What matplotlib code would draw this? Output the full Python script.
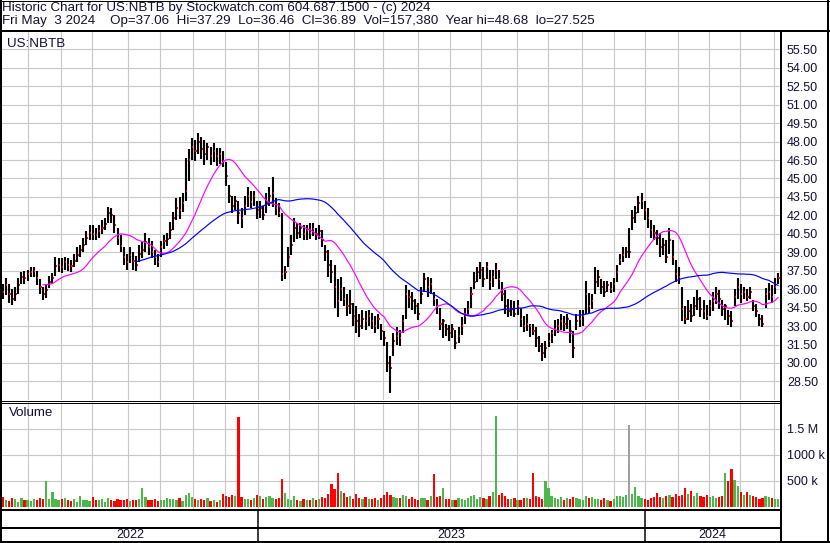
import numpy as np
import pandas as pd
import matplotlib
matplotlib.use("Agg")
import matplotlib.pyplot as plt
from matplotlib.lines import Line2D

plt.rcParams['font.family'] = ['Liberation Sans', 'DejaVu Sans']

# ---------------- data (one bar = two trading days) ----------------
close = [
    36.0, 35.8, 36.3, 35.6, 35.2, 35.6, 36.3, 37.0, 36.9, 37.2,
    37.4, 37.5, 36.9, 36.2, 35.6, 35.9, 36.6, 36.9, 37.9, 38.0,
    37.8, 38.2, 38.0, 37.9, 38.3, 38.8, 39.2, 39.6, 40.2, 40.6,
    40.5, 40.4, 40.7, 41.0, 41.3, 42.2, 42.0, 41.2, 40.2, 39.5,
    38.6, 38.2, 38.8, 38.3, 38.0, 38.9, 39.2, 39.8, 39.4, 39.0,
    38.6, 38.2, 39.4, 39.9, 40.1, 40.8, 41.8, 42.6, 42.4, 43.0,
    44.0, 46.5, 47.6, 47.2, 48.0, 47.4, 47.0, 47.6, 46.8, 47.2,
    46.8, 47.0, 46.4, 45.2, 43.6, 42.8, 43.2, 42.2, 41.8, 42.8,
    43.6, 43.1, 43.6, 42.4, 42.6, 42.0, 43.0, 43.6, 43.8, 42.6,
    42.2, 37.2, 37.4, 38.6, 39.6, 41.0, 40.6, 41.0, 40.5, 40.8,
    40.6, 40.9, 40.5, 40.7, 40.0, 39.0, 38.0, 37.4, 36.2, 35.0,
    36.0, 35.2, 34.6, 34.8, 33.8, 33.4, 33.0, 33.6, 33.4, 33.8,
    33.4, 33.0, 33.6, 32.6, 32.0, 30.0, 29.6, 31.8, 32.2, 32.0,
    33.4, 35.6, 35.4, 35.0, 34.6, 34.0, 35.6, 36.8, 36.2, 36.4,
    35.2, 34.6, 33.2, 33.4, 32.8, 32.4, 32.8, 31.6, 32.2, 33.0,
    33.8, 34.4, 35.6, 36.6, 37.4, 37.6, 36.8, 37.8, 36.6, 37.0,
    37.6, 36.8, 35.6, 34.6, 34.2, 34.4, 34.0, 34.6, 33.6, 33.0,
    33.2, 33.0, 32.6, 32.0, 31.4, 30.8, 31.2, 31.8, 32.4, 32.8,
    33.0, 33.4, 33.2, 33.6, 32.6, 31.2, 33.4, 33.6, 33.8, 35.6,
    34.6, 35.0, 36.6, 37.0, 36.2, 35.8, 36.3, 36.0, 36.4, 37.4,
    38.4, 38.8, 39.0, 39.0, 41.8, 42.2, 43.0, 43.2, 42.4, 41.8,
    40.8, 40.6, 40.2, 39.4, 39.6, 38.6, 40.0, 38.6, 37.2, 37.0,
    34.4, 33.6, 34.2, 33.8, 34.6, 35.2, 34.4, 34.2, 33.8, 34.6,
    35.0, 35.6, 35.2, 34.4, 34.6, 33.8, 33.4, 35.4, 36.2, 35.6,
    35.8, 35.4, 35.8, 34.6, 34.2, 33.6, 33.2, 35.6, 35.8, 35.4,
    36.2, 36.89,
]
high = [
    36.6, 36.4, 36.9, 36.4, 36.0, 36.2, 36.9, 37.4, 37.5, 37.6,
    37.8, 37.8, 37.5, 36.8, 36.2, 36.3, 37.1, 37.3, 38.6, 38.5,
    38.5, 38.6, 38.5, 38.4, 38.9, 39.4, 39.6, 40.2, 40.7, 41.2,
    41.2, 41.0, 41.2, 41.6, 41.8, 42.7, 42.6, 42.0, 41.0, 40.4,
    39.4, 38.9, 39.4, 39.0, 38.7, 39.6, 39.8, 40.6, 40.2, 39.9,
    39.2, 38.9, 39.9, 40.4, 40.6, 41.5, 42.3, 43.4, 43.5, 43.8,
    46.7, 47.4, 48.3, 48.1, 48.7, 48.4, 48.1, 47.9, 47.6, 47.9,
    47.5, 47.5, 47.2, 46.3, 44.5, 43.6, 43.6, 43.2, 42.6, 43.6,
    44.3, 44.0, 44.0, 43.2, 43.2, 42.8, 43.8, 44.3, 45.1, 43.4,
    43.0, 42.2, 37.9, 39.4, 40.4, 41.8, 41.4, 41.4, 41.2, 41.2,
    41.4, 41.4, 41.0, 41.2, 40.8, 39.6, 39.2, 38.4, 38.0, 36.8,
    37.0, 36.2, 35.6, 35.9, 34.9, 34.6, 34.0, 34.3, 34.2, 34.3,
    34.1, 33.8, 34.0, 33.2, 32.6, 31.7, 30.6, 32.4, 32.9, 32.7,
    33.9, 36.3, 35.9, 35.8, 35.2, 34.9, 36.2, 37.3, 37.0, 36.9,
    35.8, 35.2, 34.5, 33.6, 33.2, 33.1, 33.2, 32.7, 32.9, 33.7,
    34.5, 35.0, 36.2, 37.4, 37.8, 38.2, 37.8, 38.2, 37.6, 37.6,
    38.1, 37.6, 36.6, 35.9, 35.2, 35.1, 35.0, 35.1, 34.5, 33.8,
    34.0, 33.2, 33.2, 32.9, 32.2, 31.6, 31.8, 32.4, 32.7, 33.5,
    33.6, 34.0, 33.8, 34.0, 33.5, 32.6, 34.0, 34.3, 34.3, 36.7,
    35.7, 35.6, 37.8, 37.6, 36.8, 36.7, 36.7, 36.6, 36.9, 38.0,
    38.9, 39.4, 39.4, 41.0, 42.4, 42.8, 43.6, 43.8, 43.2, 42.6,
    41.6, 41.2, 40.8, 40.6, 40.2, 40.0, 41.0, 40.0, 38.4, 37.8,
    36.2, 34.6, 35.1, 34.8, 35.4, 35.9, 35.4, 35.1, 34.7, 35.1,
    35.8, 36.2, 35.9, 35.1, 34.8, 34.3, 34.2, 36.0, 36.9, 36.4,
    36.2, 36.0, 36.2, 35.1, 34.8, 34.0, 33.9, 36.1, 36.5, 36.3,
    36.9, 37.29,
]
low = [
    35.4, 35.2, 35.5, 34.9, 34.7, 35.0, 35.6, 36.4, 36.4, 36.7,
    37.0, 37.0, 36.3, 35.6, 35.1, 35.3, 36.1, 36.4, 37.1, 37.4,
    37.3, 37.6, 37.5, 37.4, 37.8, 38.2, 38.6, 39.0, 39.6, 40.0,
    40.0, 40.0, 40.2, 40.5, 40.8, 41.4, 41.4, 40.6, 39.6, 39.0,
    38.0, 37.6, 38.1, 37.6, 37.5, 38.2, 38.5, 39.0, 38.8, 38.5,
    38.0, 37.8, 38.6, 39.3, 39.5, 40.1, 40.8, 41.6, 41.7, 42.3,
    43.2, 44.8, 46.5, 46.4, 47.0, 46.6, 46.1, 46.5, 46.1, 46.3,
    46.0, 46.2, 45.9, 44.4, 43.0, 42.2, 42.4, 41.3, 41.0, 42.0,
    42.7, 42.6, 42.8, 41.7, 41.8, 41.6, 42.2, 42.8, 42.7, 42.0,
    41.9, 36.7, 36.8, 37.8, 38.8, 39.8, 40.1, 40.2, 40.0, 40.0,
    40.1, 40.3, 40.0, 40.1, 39.4, 38.3, 37.0, 36.5, 34.5, 33.7,
    35.0, 34.6, 33.8, 34.0, 33.0, 32.4, 32.1, 32.8, 32.7, 33.0,
    32.8, 32.4, 32.8, 31.9, 31.4, 29.3, 27.53, 30.6, 31.5, 31.4,
    32.4, 33.6, 34.5, 34.3, 34.0, 33.5, 34.8, 35.8, 35.4, 35.6,
    34.6, 34.0, 32.7, 32.0, 32.2, 31.8, 32.0, 31.1, 31.6, 32.3,
    33.2, 33.8, 34.5, 36.0, 36.6, 36.8, 36.2, 36.8, 35.9, 36.2,
    36.8, 36.0, 35.0, 34.0, 33.7, 33.8, 33.7, 33.9, 32.9, 32.5,
    32.6, 32.1, 32.3, 31.3, 30.9, 30.2, 30.4, 31.3, 31.6, 32.2,
    32.4, 32.7, 32.6, 32.8, 31.6, 30.4, 32.7, 32.9, 33.0, 34.0,
    34.0, 34.4, 35.6, 36.2, 35.6, 35.4, 35.8, 35.7, 35.8, 36.6,
    38.0, 38.2, 38.5, 38.5, 40.8, 41.4, 42.2, 42.5, 41.6, 41.0,
    40.2, 40.0, 39.6, 38.6, 38.8, 38.1, 38.9, 38.0, 36.6, 36.4,
    33.4, 33.2, 33.5, 33.3, 33.8, 34.3, 33.7, 33.6, 33.5, 33.8,
    34.2, 34.8, 34.4, 33.8, 33.5, 33.1, 32.9, 34.6, 35.2, 34.9,
    35.2, 35.0, 35.2, 34.2, 33.7, 33.0, 32.9, 34.5, 35.1, 34.9,
    35.6, 36.46,
]
volume_k = [
    150, 190, 120, 110, 170, 140, 100, 160, 130, 120,
    110, 140, 120, 160, 140, 494, 150, 283, 140, 120,
    150, 170, 120, 110, 140, 100, 200, 130, 120, 110,
    180, 130, 120, 150, 100, 160, 120, 110, 140, 130,
    120, 150, 110, 130, 120, 140, 360, 180, 130, 120,
    140, 110, 130, 120, 170, 150, 140, 130, 160, 110,
    220, 270, 190, 150, 130, 140, 120, 160, 110, 130,
    100, 120, 250, 200, 180, 230, 200, 1725, 180, 150,
    140, 120, 160, 230, 200, 150, 180, 210, 170, 140,
    160, 530, 260, 140, 130, 200, 120, 110, 150, 130,
    120, 170, 130, 140, 180, 160, 240, 440, 350, 650,
    300, 260, 180, 200, 150, 250, 160, 140, 180, 150,
    140, 170, 130, 160, 230, 280, 220, 190, 160, 170,
    230, 200, 150, 180, 140, 120, 170, 160, 130, 200,
    630, 180, 200, 360, 150, 140, 130, 120, 160, 150,
    120, 170, 200, 220, 150, 180, 160, 140, 210, 280,
    1740, 230, 260, 200, 150, 140, 160, 120, 130, 170,
    160, 140, 650, 200, 180, 150, 494, 360, 200, 170,
    150, 180, 130, 160, 140, 190, 170, 150, 120, 200,
    160, 180, 140, 150, 120, 170, 130, 110, 150, 200,
    210, 180, 230, 1570, 250, 385, 200, 170, 150, 130,
    160, 190, 270, 180, 160, 200, 230, 190, 250, 210,
    220, 360, 240, 300, 210, 260, 200, 180, 230, 190,
    200, 170, 180, 210, 655, 494, 725, 513, 405, 280,
    230, 280, 230, 200, 190, 150, 170, 200, 180, 160,
    150, 157,
]
price_ticks = [28.5 + 1.5 * k for k in range(19)]
vol_ticks = [500, 1000, 1500]
vol_tick_labels = ["500 k", "1000 k", "1.5 M"]
year_labels = ["2022", "2023", "2024"]

title1 = "Historic Chart for US:NBTB by Stockwatch.com 604.687.1500 - (c) 2024"
title2 = ("Fri May  3 2024    Op=37.06  Hi=37.29  Lo=36.46  Cl=36.89  "
          "Vol=157,380  Year hi=48.68  lo=27.525")

# ---------------- trading calendar ----------------
holidays = ["2022-05-30", "2022-06-20", "2022-07-04", "2022-09-05", "2022-11-24",
            "2022-12-26", "2023-01-02", "2023-01-16", "2023-02-20", "2023-04-07",
            "2023-05-29", "2023-06-19", "2023-07-04", "2023-09-04", "2023-11-23",
            "2023-12-25", "2024-01-01", "2024-01-15", "2024-02-19", "2024-03-29"]
tdays = pd.bdate_range("2022-05-03", "2024-05-03", freq="C", holidays=holidays)
n_days = len(tdays)
bar_idx = np.arange(n_days)[n_days - 1::-2][::-1][-len(close):]

months = pd.Series(tdays.to_period("M"))
month_starts = [i - 0.5 for i in range(1, n_days) if months[i] != months[i - 1]]
years = pd.Series(tdays.year)
year_starts = [i - 0.5 for i in range(1, n_days) if years[i] != years[i - 1]]

close_a = np.array(close)
ma_fast = pd.Series(close_a).rolling(15).mean()
ma_slow = pd.Series(close_a).rolling(45).mean()

# ---------------- figure ----------------
W, H = 830, 543
fig = plt.figure(figsize=(W / 100, H / 100), dpi=100)
fig.patch.set_facecolor("white")

def fx(p):
    return p / W

def fy(p):
    return 1 - p / H

XL, XR = 2.5, 504.3
TXT = "#111133"
GRID = "#c8c8c8"
FS = 9.6

ax = fig.add_axes([fx(2), fy(400), (780 - 2) / W, (400 - 32) / H])
axv = fig.add_axes([fx(2), fy(509), (780 - 2) / W, (509 - 402) / H])

for a in (ax, axv):
    a.set_xlim(XL, XR)
    for s in a.spines.values():
        s.set_visible(False)
    a.set_xticks(month_starts)
    a.set_axisbelow(True)
    a.grid(True, color=GRID, lw=0.8)
    a.tick_params(axis="x", length=0, labelbottom=False)
    a.yaxis.tick_right()
    a.tick_params(axis="y", length=0, pad=5, labelsize=9.0, labelcolor=TXT,
                  labelright=True, labelleft=False)

# price panel
ax.set_ylim(26.99, 56.91)
ax.set_yticks(price_ticks)
ax.set_yticklabels([f"{v:.2f}" for v in price_ticks])
ax.vlines(bar_idx, low, high, color="black", lw=1.5)
ax.hlines(close, bar_idx + 0.3, bar_idx + 1.0, color="red", lw=1.4)
ax.plot(bar_idx, ma_fast, color="#ff00ff", lw=0.85)
ax.plot(bar_idx, ma_slow, color="#0000ff", lw=0.85)

# volume panel
chg = np.diff(close_a, prepend=close_a[0] - 0.1)
vcol = np.where(chg > 0, "#4cb84c", np.where(chg < 0, "#ff0000", "#a0a0a0"))
axv.bar(bar_idx, volume_k, width=1.45, color=vcol, linewidth=0)
axv.set_ylim(-44, 2013)
axv.set_yticks(vol_ticks)
axv.set_yticklabels(vol_tick_labels)

# ---------------- frame lines ----------------
def hline(y, x0, x1, w=1.0):
    fig.add_artist(Line2D([fx(x0), fx(x1)], [fy(y), fy(y)], color="black",
                          lw=w * 0.72, transform=fig.transFigure,
                          solid_capstyle="butt"))

def vline(x, y0, y1, w=1.0):
    fig.add_artist(Line2D([fx(x), fx(x)], [fy(y0), fy(y1)], color="black",
                          lw=w * 0.72, transform=fig.transFigure,
                          solid_capstyle="butt"))

hline(0.5, 0, 830, 1)
hline(31, 0, 830, 2)
hline(541.5, 0, 830, 2)
vline(1, 0, 543, 2)
vline(828, 0, 543, 2)
vline(780.5, 31, 542, 2)
hline(400.5, 0, 780, 1)
hline(402.5, 0, 780, 1)
hline(509.5, 0, 781, 2)
hline(527.5, 0, 781, 2)

x_per = (780 - 2) / (XR - XL)
def px_of(i):
    return 2 + (i - XL) * x_per

bounds = [XL] + year_starts + [XR]
for yst in year_starts:
    vline(px_of(yst), 510, 541, 1.5)
for k, lab in enumerate(year_labels):
    cx = (px_of(bounds[k]) + px_of(bounds[k + 1])) / 2
    fig.text(fx(cx), fy(534.5), lab, ha="center", va="center", fontsize=9.0, color=TXT)

# ---------------- texts ----------------
fig.text(fx(2), fy(11.0), title1, ha="left", va="baseline", fontsize=FS, color=TXT)
fig.text(fx(2), fy(24.0), title2, ha="left", va="baseline", fontsize=FS, color=TXT)
fig.text(fx(7), fy(46.5), "US:NBTB", ha="left", va="baseline", fontsize=FS, color=TXT)
fig.text(fx(9), fy(413.3), "Volume", ha="left", va="center", fontsize=FS, color=TXT)

fig.savefig("out.png", dpi=100, facecolor="white")
